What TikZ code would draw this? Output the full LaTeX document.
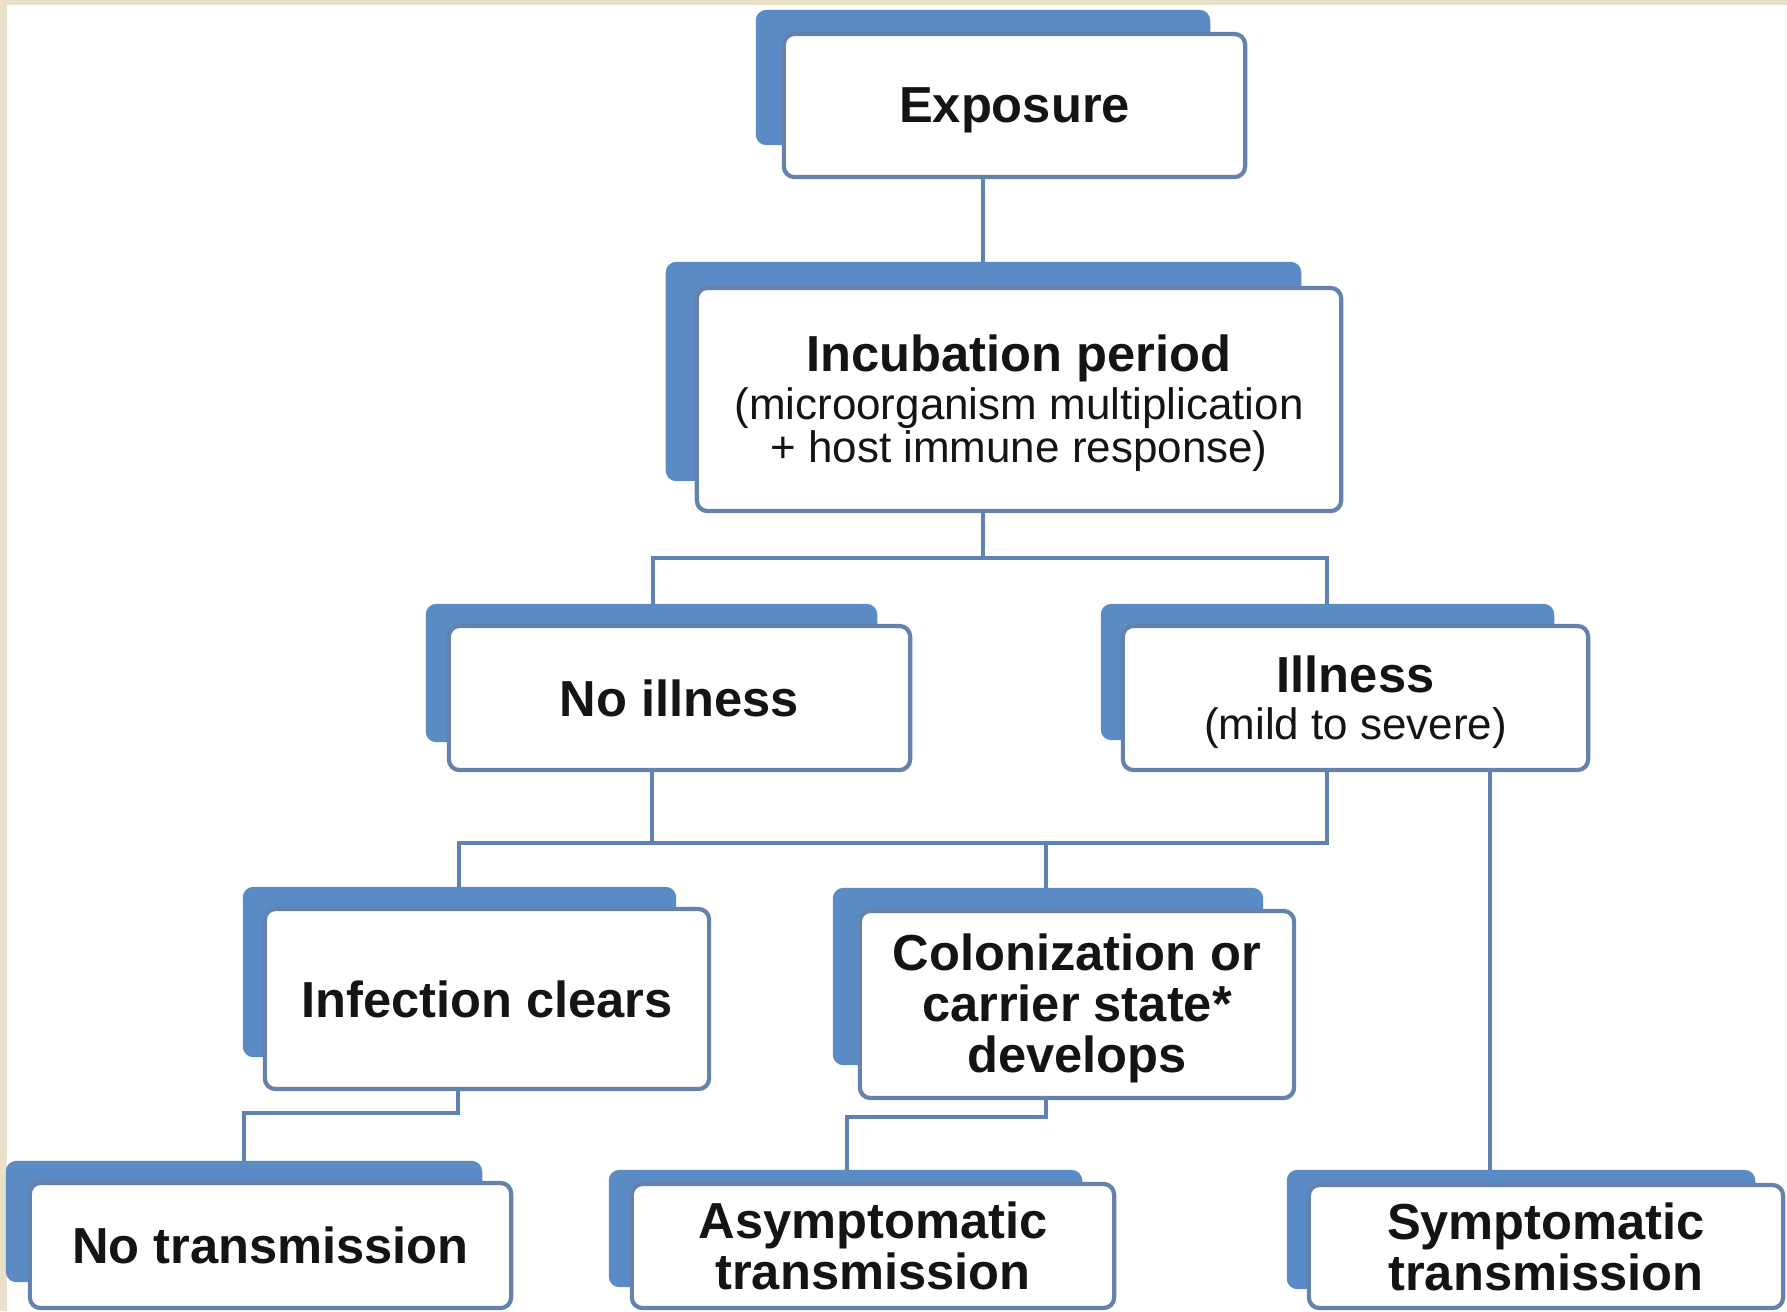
\documentclass[tikz,border=0pt]{standalone}
\usepackage{fontspec}
\setmainfont{Liberation Sans}
\usetikzlibrary{backgrounds}

\definecolor{plate}{HTML}{5A8BC5}
\definecolor{rim}{HTML}{6482AC}
\definecolor{wirec}{HTML}{5E82B2}
\definecolor{ink}{HTML}{141414}
\definecolor{sand}{HTML}{EADFC8}

\newcommand\bigtxt{\fontsize{14.4}{14.5}\selectfont\bfseries}
\newcommand\smalltxt{\fontsize{12.5}{12.2}\selectfont\mdseries}
% taller first line, so the text block sits a little lower in its box
\newcommand\toproom{\rule{0pt}{12.6pt}}

\tikzset{
  box/.style={draw=rim, line width=1.2pt, fill=white, rounded corners=3pt,
    inner sep=0pt, align=center, text=ink, font=\bigtxt},
  wire/.style={draw=wirec, line width=1.4pt},
  back/.style={fill=plate, rounded corners=3pt},
}

% blue plate behind a box: node, shift of north west corner, shift of south east corner
\newcommand\backplate[5]{\fill[back] ([shift={(#2,#3)}]#1.north west) rectangle ([shift={(#4,#5)}]#1.south east);}

\begin{document}
\begin{tikzpicture}[x=0.01cm, y=-0.01cm]
\useasboundingbox (0,0) rectangle (1787,1311);

% boxes
\node[box, minimum width=4.61cm, minimum height=1.43cm] (ex) at (1014.5,105.5) {\toproom Exposure};
\node[box, minimum width=6.44cm, minimum height=2.23cm] (inc) at (1019,399.5)
  {{\toproom\bigtxt Incubation period}\\[-0.9pt]{\smalltxt (microorganism multiplication}\\[-2.3pt]{\smalltxt + host immune response)}};
\node[box, minimum width=4.61cm, minimum height=1.44cm] (noill) at (679.5,698) {No illness};
\node[box, minimum width=4.65cm, minimum height=1.44cm] (ill) at (1355.5,698)
  {{\toproom\bigtxt Illness}\\[-1.2pt]{\smalltxt (mild to severe)}};
\node[box, minimum width=4.44cm, minimum height=1.80cm] (clr) at (487,999) {Infection clears};
\node[box, minimum width=4.34cm, minimum height=1.87cm] (col) at (1077,1004.5)
  {\toproom Colonization or\\carrier state*\\develops};
\node[box, minimum width=4.81cm, minimum height=1.25cm] (notr) at (270.5,1245.5) {No transmission};
\node[box, minimum width=4.82cm, minimum height=1.24cm] (asy) at (873,1246) {Asymptomatic\\transmission};
\node[box, minimum width=4.74cm, minimum height=1.23cm] (sym) at (1546,1246.5) {Symptomatic\\transmission};

% junction points of the connectors
\coordinate (s1) at (983,558);
\coordinate (a1) at (653,558);
\coordinate (a2) at (1327,558);
\coordinate (b1) at (652,843);
\coordinate (b2) at (1327,843);
\coordinate (b3) at (459,843);
\coordinate (b4) at (1046,843);
\coordinate (c1) at (1490,900);
\coordinate (d1) at (458,1113);
\coordinate (d2) at (244,1113);
\coordinate (e1) at (1046,1117);
\coordinate (e2) at (847,1117);

\begin{scope}[on background layer]
  % page edge strips
  \fill[sand] (0,0) rectangle (1787,5);
  \fill[sand] (0,0) rectangle (7,1311);

  % connectors
  \draw[wire] (ex.south -| s1) -- (inc.north -| s1);
  \draw[wire] (inc.south -| s1) -- (s1);
  \draw[wire] (noill.north -| a1) -- (a1) -- (a2) -- (ill.north -| a2);
  \draw[wire] (noill.south -| b1) -- (b1);
  \draw[wire] (ill.south -| b2) -- (b2) -- (b3) -- (clr.north -| b3);
  \draw[wire] (b4) -- (col.north -| b4);
  \draw[wire] (ill.south -| c1) -- (sym.north -| c1);
  \draw[wire] (clr.south -| d1) -- (d1) -- (d2) -- (notr.north -| d2);
  \draw[wire] (col.south -| e1) -- (e1) -- (e2) -- (asy.north -| e2);

  % blue plates behind the boxes
  \backplate{ex}{-26}{-22}{-37}{-34}
  \backplate{inc}{-29}{-24}{-42}{-32}
  \backplate{noill}{-21}{-20}{-35}{-30}
  \backplate{ill}{-20}{-20}{-36}{-32}
  \backplate{clr}{-20}{-20}{-35}{-34}
  \backplate{col}{-25}{-21}{-33}{-35}
  \backplate{notr}{-22}{-20}{-31}{-28}
  \backplate{asy}{-21}{-12}{-34}{-23}
  \backplate{sym}{-20}{-13}{-30}{-21}
\end{scope}
\end{tikzpicture}
\end{document}
